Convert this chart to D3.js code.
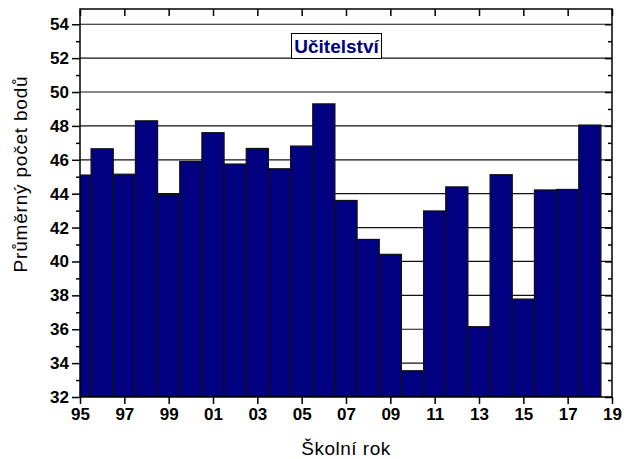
<!DOCTYPE html>
<html>
    <head>
        <style>
            body{
                margin: 0;
                background-color: white;
            }
            text{
                font-family: Arial, "Liberation Sans", sans-serif;
            }
        </style>
        <script src="https://d3js.org/d3.v7.min.js"></script>
    </head>
    <body>
        <script>
            const w = 624;
            const h = 459;
            const plotL = 80, plotR = 612, plotT = 9, plotB = 397;

            // school years (1995 .. 2018) and average points
            const years = [1995,1996,1997,1998,1999,2000,2001,2002,2003,2004,2005,2006,
                           2007,2008,2009,2010,2011,2012,2013,2014,2015,2016,2017,2018];
            const points = [45.1,46.65,45.15,48.3,43.95,45.9,47.6,45.75,46.67,45.47,46.81,49.3,
                            43.6,41.3,40.42,33.55,42.98,44.4,36.15,45.12,37.78,44.22,44.25,48.05];
            const xTickYears = [1995,1997,1999,2001,2003,2005,2007,2009,2011,2013,2015,2017,2019];
            const xTickLabels = ["95","97","99","01","03","05","07","09","11","13","15","17","19"];
            const yMajor = [32,34,36,38,40,42,44,46,48,50,52,54];
            const yMinor = [33,35,37,39,41,43,45,47,49,51,53];
            const title = "Učitelství";
            const xTitle = "Školní rok";
            const yTitle = "Průměrný počet bodů";

            const svg = d3.select("body")
                        .append("svg")
                        .attr("width",w)
                        .attr("height",h)

            const x = d3.scaleLinear().domain([1995,2019]).range([plotL,plotR]);
            const y = d3.scaleLinear().domain([32,54.9]).range([plotB,plotT]);

            svg.append("clipPath").attr("id","plot")
                .append("rect")
                .attr("x",plotL).attr("y",plotT)
                .attr("width",plotR-plotL).attr("height",plotB-plotT)

            // horizontal grid lines
            svg.append("g")
                .selectAll("line")
                .data(yMajor.slice(1))
                .enter()
                .append("line")
                .attr("x1",plotL).attr("x2",plotR)
                .attr("y1",d => y(d)).attr("y2",d => y(d))
                .attr("stroke","#111")
                .attr("stroke-width",1.2)

            // bars
            svg.append("g")
                .attr("clip-path","url(#plot)")
                .selectAll("rect")
                .data(years)
                .enter()
                .append("rect")
                .attr("x",d => x(d-0.5))
                .attr("width",d => x(d+0.5)-x(d-0.5))
                .attr("y",(d,i) => y(points[i]))
                .attr("height",(d,i) => plotB - y(points[i]))
                .attr("fill","#000080")
                .attr("stroke","#111")
                .attr("stroke-width",1.2)

            // axes
            const xAxis = d3.axisBottom(x).tickValues(xTickYears)
                .tickFormat((d,i) => xTickLabels[i]).tickSize(7).tickPadding(4);
            const gx = svg.append("g").attr("transform","translate(0,"+plotB+")").call(xAxis);
            const gxTop = svg.append("g").attr("transform","translate(0,"+plotT+")")
                .call(d3.axisBottom(x).tickValues(xTickYears).tickFormat("").tickSize(7));

            const yAxis = d3.axisLeft(y).tickValues(yMajor).tickSize(8).tickPadding(3);
            const gy = svg.append("g").attr("transform","translate("+plotL+",0)").call(yAxis);
            const gyMinor = svg.append("g").attr("transform","translate("+plotL+",0)")
                .call(d3.axisLeft(y).tickValues(yMinor).tickFormat("").tickSize(4));
            const gyR = svg.append("g").attr("transform","translate("+plotR+",0)")
                .call(d3.axisLeft(y).tickValues(yMajor).tickFormat("").tickSize(7));
            const gyRMinor = svg.append("g").attr("transform","translate("+plotR+",0)")
                .call(d3.axisLeft(y).tickValues(yMinor).tickFormat("").tickSize(4));

            [gx,gxTop,gy,gyMinor,gyR,gyRMinor].forEach(g => {
                g.select(".domain").remove();
                g.selectAll(".tick line").attr("stroke","#000").attr("stroke-width",1.5);
                g.selectAll(".tick text")
                    .attr("fill","#000")
                    .style("font-size","17px")
                    .style("font-weight","bold");
            });

            // frame
            svg.append("rect")
                .attr("x",plotL).attr("y",plotT)
                .attr("width",plotR-plotL).attr("height",plotB-plotT)
                .attr("fill","none")
                .attr("stroke","#000")
                .attr("stroke-width",1.5)

            // title box
            svg.append("rect")
                .attr("x",291.5).attr("y",33.5)
                .attr("width",90).attr("height",25)
                .attr("fill","white")
                .attr("stroke","#000")
                .attr("stroke-width",1)
            svg.append("text")
                .attr("x",336.5).attr("y",52.5)
                .attr("text-anchor","middle")
                .style("font-size","19px")
                .style("font-weight","bold")
                .attr("fill","#000080")
                .text(title)

            // axis titles
            svg.append("text")
                .attr("x",(plotL+plotR)/2).attr("y",455)
                .attr("text-anchor","middle")
                .style("font-size","19px")
                .style("letter-spacing","0.5px")
                .attr("fill","#000")
                .text(xTitle)

            svg.append("text")
                .attr("transform","translate(27,174) rotate(-90)")
                .attr("text-anchor","middle")
                .style("font-size","19px")
                .style("letter-spacing","0.8px")
                .attr("fill","#000")
                .text(yTitle)
        </script>
    </body>
</html>
